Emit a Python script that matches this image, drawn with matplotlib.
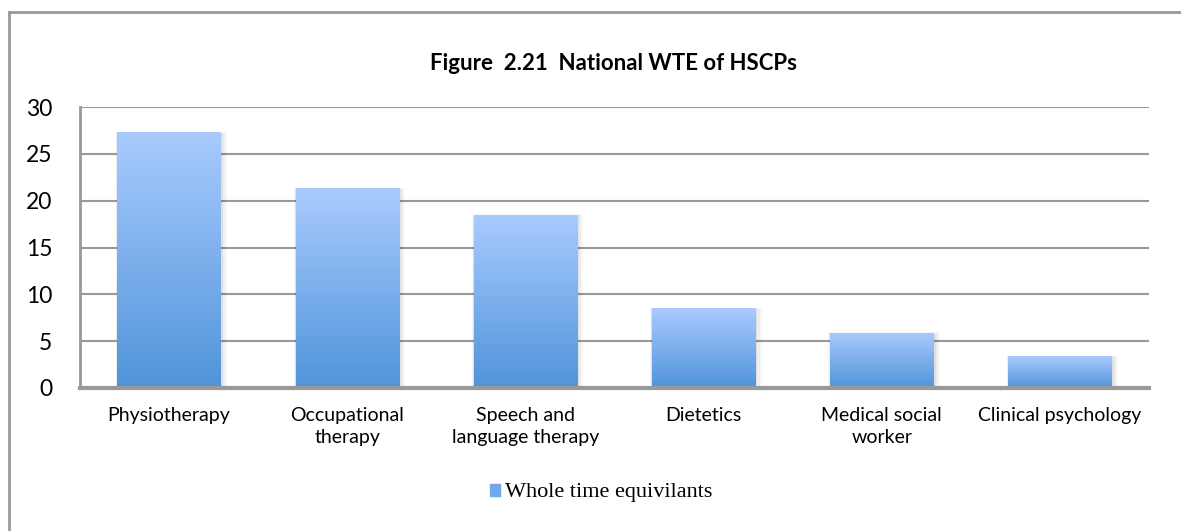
import matplotlib.pyplot as plt
import numpy as np
from matplotlib.colors import LinearSegmentedColormap
from matplotlib.patches import Rectangle
from matplotlib.lines import Line2D

categories = ['Physiotherapy', 'Occupational\ntherapy', 'Speech and\nlanguage therapy',
              'Dietetics', 'Medical social\nworker', 'Clinical psychology']
wte = [27.3, 21.3, 18.5, 8.5, 5.9, 3.4]
y_ticks = [0, 5, 10, 15, 20, 25, 30]
title = 'Figure  2.21  National WTE of HSCPs'
series_name = 'Whole time equivilants'

plt.rcParams['font.family'] = ['Lato', 'DejaVu Sans']

fig = plt.figure(figsize=(11.81, 5.31), dpi=100)
ax = fig.add_axes([80 / 1181, 1 - 388 / 531, (1149 - 80) / 1181, (388 - 107) / 531])

x = np.arange(len(categories))
bar_w = 0.58
cmap = LinearSegmentedColormap.from_list('blues', ['#5094da', '#a9cbfe'])
grad = np.linspace(0, 1, 256).reshape(-1, 1)

bars = ax.bar(x, wte, width=bar_w, color='none', zorder=3)
for b in bars:
    x0, w, h = b.get_x(), b.get_width(), b.get_height()
    # soft shadow
    for k, a in enumerate([0.05, 0.04, 0.03]):
        d = 0.01 * (k + 1)
        ax.add_patch(Rectangle((x0 - d * 0.3, -0.15), w + d * 1.5, h + d * 6,
                               color='#000000', alpha=a, lw=0, zorder=2))
    im = ax.imshow(grad, cmap=cmap, aspect='auto', origin='lower',
                   extent=(x0, x0 + w, 0, h), zorder=3)
    im.set_clip_path(b)

ax.set_xlim(-0.5, len(categories) - 0.5)
ax.set_ylim(0, 30)
ax.set_yticks(y_ticks)
ax.set_xticks(x)
ax.set_xticklabels(categories, fontsize=14, linespacing=1.35)
ax.tick_params(axis='y', length=0, pad=20, labelsize=16.5)
ax.tick_params(axis='x', length=0, pad=14)
ax.yaxis.grid(True, color='#999999', linewidth=1.5, zorder=1)
ax.set_axisbelow(True)
for s in ['top', 'right']:
    ax.spines[s].set_visible(False)
ax.spines['left'].set_color('#999999')
ax.spines['left'].set_linewidth(2)
ax.spines['bottom'].set_color('#999999')
ax.spines['bottom'].set_linewidth(3)
ax.spines['bottom'].set_zorder(4)

fig.text(614 / 1181, 1 - 64 / 531, title, ha='center', va='center',
         fontsize=16, fontweight='bold')

handle = Rectangle((0, 0), 1, 1, color='#6fa8ec')
fig.legend([handle], [series_name], loc='center', bbox_to_anchor=(601 / 1181, 1 - 493 / 531),
           frameon=False, prop={'family': 'Liberation Serif', 'size': 16},
           handlelength=0.45, handleheight=0.45, handletextpad=0.2)

# outer frame (left and top edges only)
fig.add_artist(Line2D([9 / 1181, 9 / 1181], [0, 1 - 12 / 531], transform=fig.transFigure,
                      color='#999999', linewidth=2))
fig.add_artist(Line2D([9 / 1181, 1], [1 - 12 / 531, 1 - 12 / 531], transform=fig.transFigure,
                      color='#999999', linewidth=2))

fig.savefig('out.png', dpi=100)
